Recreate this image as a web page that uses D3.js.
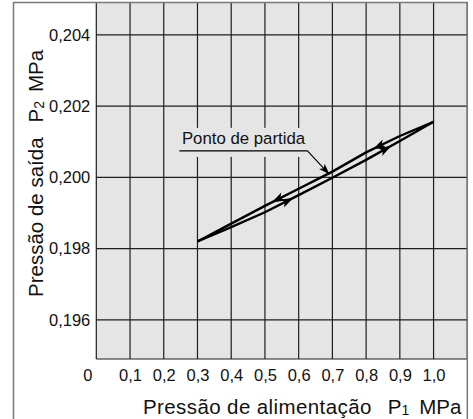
<!DOCTYPE html>
<html>
<head>
<meta charset="utf-8">
<script src="https://cdn.jsdelivr.net/npm/d3@7"></script>
<style>
  html, body { margin: 0; padding: 0; background: #fff; }
  svg { display: block; }
  text { font-family: "Liberation Sans", Arial, sans-serif; fill: #111; }
</style>
</head>
<body>
<svg id="chart" width="473" height="419"></svg>
<script>
// Supply pressure P1 (MPa): grid ticks and labels
const p1Grid = [0, 0.1, 0.2, 0.3, 0.4, 0.5, 0.6, 0.7, 0.8, 0.9, 1.0, 1.1];
const p1Ticks = [0.1, 0.2, 0.3, 0.4, 0.5, 0.6, 0.7, 0.8, 0.9, 1.0];
const p1TickLabels = ["0,1", "0,2", "0,3", "0,4", "0,5", "0,6", "0,7", "0,8", "0,9", "1,0"];

// Outlet pressure P2 (MPa): ticks and labels
const p2Ticks = [0.196, 0.198, 0.200, 0.202, 0.204];
const p2TickLabels = ["0,196", "0,198", "0,200", "0,202", "0,204"];

// Hysteresis loop: P1 points, P2 while P1 rises and while P1 falls
const p1 = [0.3, 0.4, 0.5, 0.6, 0.7, 0.8, 0.9, 1.0];
const p2Rising  = [0.19820, 0.19860, 0.19902, 0.19950, 0.19999, 0.20049, 0.20102, 0.20156];
const p2Falling = [0.19820, 0.19870, 0.19920, 0.19968, 0.20016, 0.20070, 0.20116, 0.20156];

// Where the direction arrows sit (P1 values)
const risingArrowsAt = [0.585, 0.875];
const fallingArrowsAt = [0.52, 0.82];

// Starting point annotation
const startP1 = 0.7;
const startP2 = 0.200;
const startLabel = "Ponto de partida";

const svg = d3.select("#chart");
const plot = { left: 96.3, right: 467.3, top: 2.8, bottom: 359 };

const x = d3.scaleLinear().domain([0, 1.1]).range([plot.left, plot.right]);
const y = d3.scaleLinear().domain([0.1949, 0.2049]).range([plot.bottom, plot.top]);

// plot background
svg.append("rect")
  .attr("x", plot.left).attr("y", plot.top)
  .attr("width", plot.right - plot.left).attr("height", plot.bottom - plot.top)
  .attr("fill", "#e5e5e5");

// grid
const grid = svg.append("g").attr("stroke", "#1e1e1e").attr("stroke-width", 1.2);
grid.selectAll("line.v").data(p1Grid).join("line")
  .attr("class", "v")
  .attr("x1", d => x(d)).attr("x2", d => x(d))
  .attr("y1", plot.top).attr("y2", plot.bottom);
grid.selectAll("line.h").data(p2Ticks).join("line")
  .attr("class", "h")
  .attr("x1", plot.left).attr("x2", plot.right)
  .attr("y1", d => y(d)).attr("y2", d => y(d));
grid.append("line")
  .attr("x1", plot.left).attr("x2", plot.right)
  .attr("y1", plot.bottom).attr("y2", plot.bottom);

// outer frame
svg.append("rect")
  .attr("x", 13.5).attr("y", 2.5)
  .attr("width", plot.right - 13.5).attr("height", 440)
  .attr("fill", "none").attr("stroke", "#7a7a7a").attr("stroke-width", 1.5);

// axes (labels only; the grid draws the lines)
const xAxis = d3.axisBottom(x)
  .tickValues(p1Ticks)
  .tickFormat((d, i) => p1TickLabels[i])
  .tickSize(0);
const gx = svg.append("g").attr("transform", `translate(0,${plot.bottom})`).call(xAxis);
gx.select(".domain").remove();
gx.selectAll("text")
  .attr("y", 21.5).attr("dy", null)
  .style("font-size", "16.5px").style("fill", "#111")
  .style("font-family", "'Liberation Sans', Arial, sans-serif");
svg.append("text")
  .attr("x", x(0) - 8.5).attr("y", plot.bottom + 21.5)
  .attr("text-anchor", "middle")
  .style("font-size", "16.5px")
  .text("0");

const yAxis = d3.axisLeft(y)
  .tickValues(p2Ticks)
  .tickFormat((d, i) => p2TickLabels[i])
  .tickSize(0).tickPadding(6);
const gy = svg.append("g").attr("transform", `translate(${plot.left},0)`).call(yAxis);
gy.select(".domain").remove();
gy.selectAll("text")
  .style("font-size", "16.5px").style("fill", "#111")
  .style("font-family", "'Liberation Sans', Arial, sans-serif");

// loop lines
const line = d3.line().x(d => x(d[0])).y(d => y(d[1]));
const series = [
  { values: p2Rising, arrows: risingArrowsAt, dir: 1 },
  { values: p2Falling, arrows: fallingArrowsAt, dir: -1 }
];
series.forEach(s => {
  svg.append("path")
    .datum(p1.map((v, i) => [v, s.values[i]]))
    .attr("d", line)
    .attr("fill", "none").attr("stroke", "#000")
    .attr("stroke-width", 2.4).attr("stroke-linejoin", "round");
});

// arrowhead drawn with its tip at (tx, ty), pointing along (ux, uy)
function arrowHead(tx, ty, ux, uy, len, half) {
  const n = Math.hypot(ux, uy); ux /= n; uy /= n;
  const px = -uy, py = ux;
  const bx = tx - ux * len, by = ty - uy * len;
  const nx = tx - ux * len * 0.75, ny = ty - uy * len * 0.75;
  return `M${tx},${ty}L${bx + px * half},${by + py * half}L${nx},${ny}L${bx - px * half},${by - py * half}Z`;
}

series.forEach(s => {
  const interp = d3.scaleLinear().domain(p1).range(s.values);
  s.arrows.forEach(a => {
    const tx = x(a), ty = y(interp(a));
    const ux = x(a + 0.01 * s.dir) - tx, uy = y(interp(a + 0.01 * s.dir)) - ty;
    svg.append("path")
      .attr("d", arrowHead(tx, ty, ux, uy, 13, 4.4))
      .attr("fill", "#000");
  });
});

// starting point annotation
const sx = x(startP1), sy = y(startP2);
svg.append("rect")
  .attr("x", sx - 154).attr("y", sy - 49.5)
  .attr("width", 132).attr("height", 29)
  .attr("fill", "#e5e5e5");
svg.append("text")
  .attr("x", sx - 150.5).attr("y", sy - 33.5)
  .style("font-size", "16.8px")
  .text(startLabel);
const tipX = sx - 3, tipY = sy - 3;
const elbowX = sx - 25, elbowY = sy - 26.5;
svg.append("path")
  .attr("d", `M${sx - 153},${elbowY}H${elbowX}L${tipX},${tipY}`)
  .attr("fill", "none").attr("stroke", "#000").attr("stroke-width", 1.1);
svg.append("path")
  .attr("d", arrowHead(tipX, tipY, tipX - elbowX, tipY - elbowY, 11, 3.8))
  .attr("fill", "#000");

// axis titles
const xTitle = svg.append("text")
  .attr("x", 143).attr("y", 414)
  .style("font-size", "20.5px");
xTitle.append("tspan").style("letter-spacing", "0.4px").text("Pressão de alimentação");
xTitle.append("tspan").attr("dx", 16).text("P");
xTitle.append("tspan").attr("dy", 1).style("font-size", "14px").text("1");
xTitle.append("tspan").attr("dx", 10).attr("dy", -1).text("MPa");

const yTitle = svg.append("text")
  .attr("transform", "translate(42.5,297) rotate(-90)")
  .style("font-size", "20.5px");
yTitle.append("tspan").text("Pressão de saída");
yTitle.append("tspan").attr("dx", 15).text("P");
yTitle.append("tspan").attr("dy", 1).style("font-size", "14px").text("2");
yTitle.append("tspan").attr("dx", 9).attr("dy", -1).text("MPa");
</script>
</body>
</html>
